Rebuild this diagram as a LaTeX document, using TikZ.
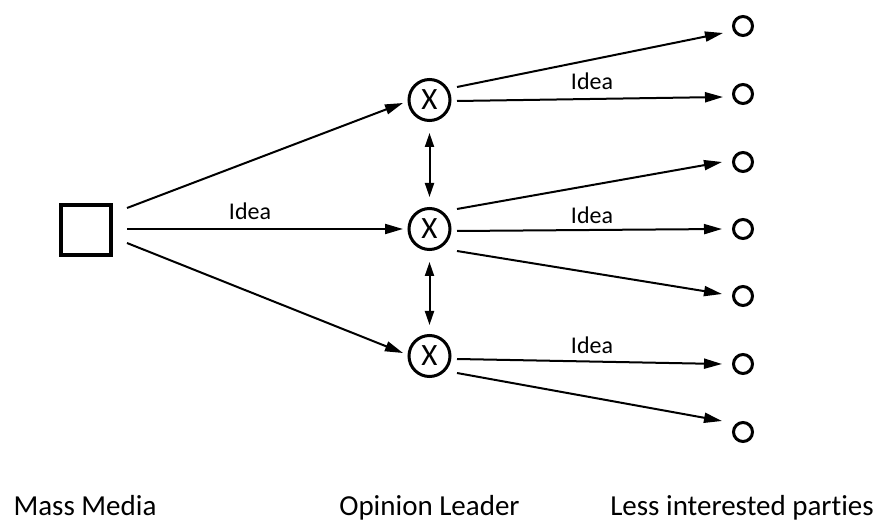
\documentclass[tikz,border=0pt]{standalone}
\usepackage{fontspec}
\setmainfont[Ligatures=NoCommon]{Carlito}
\usetikzlibrary{arrows.meta}

\tikzset{
  media/.style={draw, line width=4pt, minimum size=50pt, inner sep=0pt},
  leader/.style={draw, circle, line width=3pt, minimum size=41pt, inner sep=0pt,
    font=\fontsize{31}{31}\selectfont},
  party/.style={draw, circle, line width=3pt, minimum size=19pt, inner sep=0pt},
  flow/.style={line width=2pt, -{Triangle[length=18pt,width=10pt]}},
  mutual/.style={line width=2pt, {Triangle[length=14pt,width=9pt]}-{Triangle[length=14pt,width=9pt]}},
  idea/.style={anchor=base, inner sep=0pt, font=\fontsize{24}{24}\selectfont},
  caption/.style={anchor=base, inner sep=0pt, font=\fontsize{29}{29}\selectfont}
}

\begin{document}
\begin{tikzpicture}[x=1pt, y=-1pt]
\useasboundingbox (0,0) rectangle (881,521);

% source
\node[media] (mm) at (86,230) {};

% opinion leaders
\node[leader] (l1) at (429.5,100) {X};
\node[leader] (l2) at (429.5,229) {X};
\node[leader] (l3) at (429.5,356) {X};

% less interested parties
\node[party] (p1) at (743,26) {};
\node[party] (p2) at (743,94) {};
\node[party] (p3) at (743,162) {};
\node[party] (p4) at (743,229) {};
\node[party] (p5) at (743,296) {};
\node[party] (p6) at (743,364) {};
\node[party] (p7) at (743,432) {};

% media to leaders
\draw[flow] ([shift={(41,-22)}]mm.center) -- ([shift={(-26.5,3)}]l1.center);
\draw[flow] ([shift={(41,-1)}]mm.center) -- ([shift={(-26.5,0)}]l2.center);
\draw[flow] ([shift={(41,13)}]mm.center) -- ([shift={(-26.5,-3)}]l3.center);

% exchange between leaders
\draw[mutual] ([shift={(0,33)}]l1.center) -- ([shift={(0,-32)}]l2.center);
\draw[mutual] ([shift={(0,33)}]l2.center) -- ([shift={(0,-31)}]l3.center);

% leaders to parties
\draw[flow] ([shift={(27.5,-13)}]l1.center) -- ([shift={(-20,7)}]p1.center);
\draw[flow] ([shift={(27.5,1)}]l1.center) -- ([shift={(-20,3)}]p2.center);
\draw[flow] ([shift={(27.5,-20)}]l2.center) -- ([shift={(-21,0)}]p3.center);
\draw[flow] ([shift={(27.5,2)}]l2.center) -- ([shift={(-21,0)}]p4.center);
\draw[flow] ([shift={(27.5,22)}]l2.center) -- ([shift={(-21,-2)}]p5.center);
\draw[flow] ([shift={(27.5,3)}]l3.center) -- ([shift={(-21,0)}]p6.center);
\draw[flow] ([shift={(27.5,17)}]l3.center) -- ([shift={(-21,-11)}]p7.center);

% message labels
\node[idea] (i1) at (250,220) {Idea};
\node[idea] (i2) at (592,90) {Idea};
\node[idea] (i3) at (592,224) {Idea};
\node[idea] (i4) at (592,353) {Idea};

% column captions
\node[caption] (c1) at (85,515) {Mass Media};
\node[caption] (c2) at (429.5,515) {Opinion Leader};
\node[caption] (c3) at (742,515) {Less interested parties};
\end{tikzpicture}
\end{document}
